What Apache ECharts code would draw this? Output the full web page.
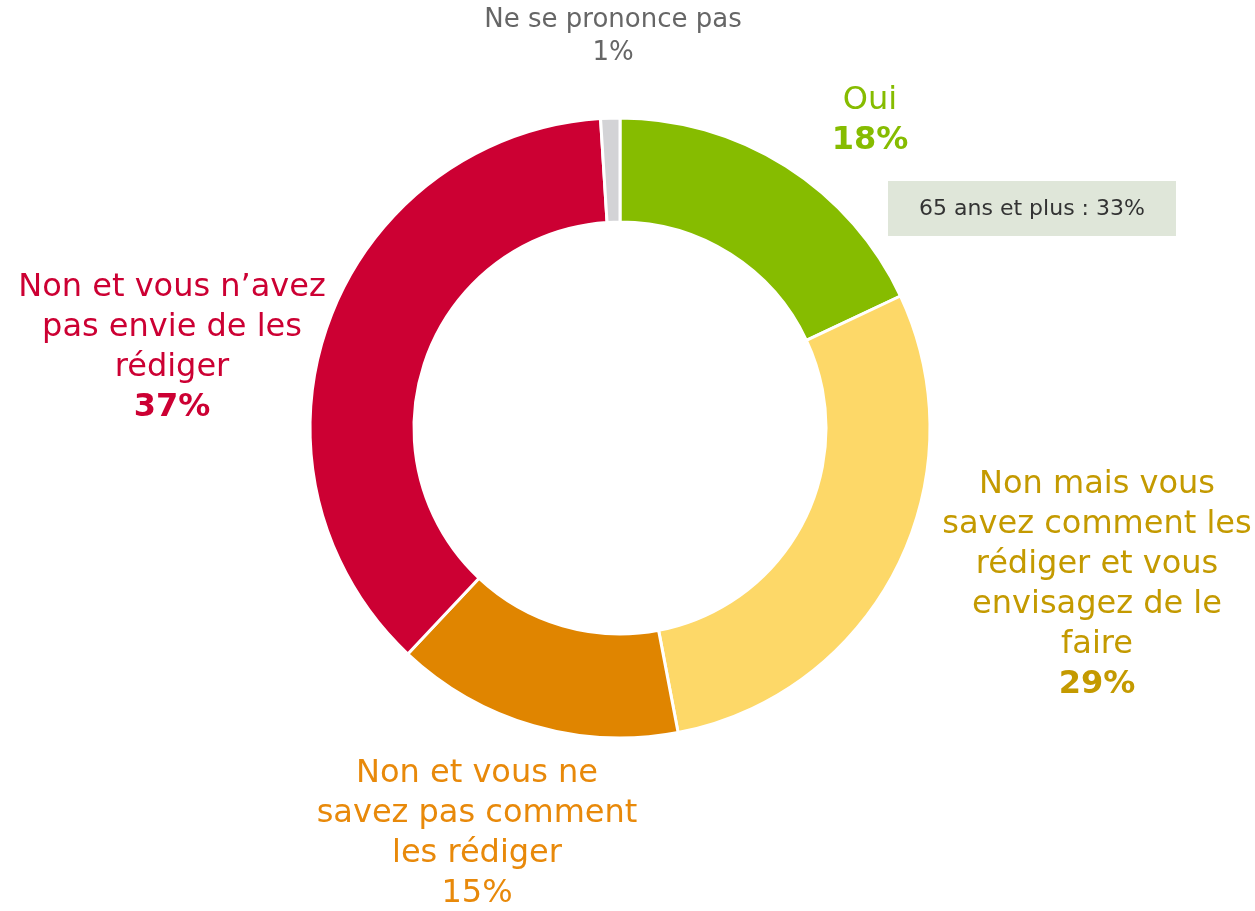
<!DOCTYPE html>
<html><head><meta charset="utf-8">
<script src="https://cdn.jsdelivr.net/npm/echarts@6/dist/echarts.min.js"></script>
<style>html,body{margin:0;padding:0;background:#fff}#c{width:1255px;height:911px}</style>
</head><body><div id="c"></div>
<script>
const categories = ["Oui", "Non mais vous savez comment les rédiger et vous envisagez de le faire", "Non et vous ne savez pas comment les rédiger", "Non et vous n’avez pas envie de les rédiger", "Ne se prononce pas"];
const labelLines = [["Oui"], ["Non mais vous", "savez comment les", "rédiger et vous", "envisagez de le", "faire"], ["Non et vous ne", "savez pas comment", "les rédiger"], ["Non et vous n’avez", "pas envie de les", "rédiger"], ["Ne se prononce pas"]];
const values = [18, 29, 15, 37, 1];
const boldPct = [true, true, false, true, false];
const sliceColors = ["#86BC00", "#FDD868", "#E08500", "#CC0033", "#D3D3D6"];
const textColors = ["#86BC00", "#C49A00", "#E8890A", "#CC0033", "#666666"];
const note = "65 ans et plus : 33%";

const labelPos = [[870, 121], [1097, 585], [477, 834], [172, 348], [613, 37]];
const chart = echarts.init(document.getElementById('c'));
const data = values.map((v, i) => {
  const big = i !== 4;
  const fs = big ? 32 : 26;
  const lh = big ? 40 : 33;
  return {
    name: categories[i], value: v,
    itemStyle: {color: sliceColors[i]},
    label: {
      formatter: labelLines[i].map(l => '{t|' + l + '}').join('\n') + '\n' + (boldPct[i] ? '{b|' : '{t|') + v + '%}',
      rich: {
        t: {fontSize: fs, lineHeight: lh, color: textColors[i], fontFamily: 'DejaVu Sans', align: 'center'},
        b: {fontSize: fs, lineHeight: lh, color: textColors[i], fontFamily: 'DejaVu Sans', fontWeight: 'bold', align: 'center'}
      }
    }
  };
});
chart.setOption({
  animation: false,
  series: [{
    type: 'pie', center: [620, 428], radius: [206, 310], startAngle: 90, clockwise: true,
    itemStyle: {borderColor: '#fff', borderWidth: 3},
    label: {show: true, position: 'outside', align: 'center', verticalAlign: 'middle', overflow: 'none', width: 600},
    labelLine: {show: false},
    labelLayout: function (p) { const q = labelPos[p.dataIndex]; return {x: q[0], y: q[1], align: 'center', verticalAlign: 'middle'}; },
    data: data
  }],
  graphic: [{
    type: 'rect', shape: {x: 888, y: 181, width: 288, height: 55}, style: {fill: '#DFE6D9'}
  }, {
    type: 'text', x: 1032, y: 209, style: {text: note, fontSize: 22, fontFamily: 'DejaVu Sans', fill: '#333', align: 'center', verticalAlign: 'middle'}
  }]
});
</script></body></html>
